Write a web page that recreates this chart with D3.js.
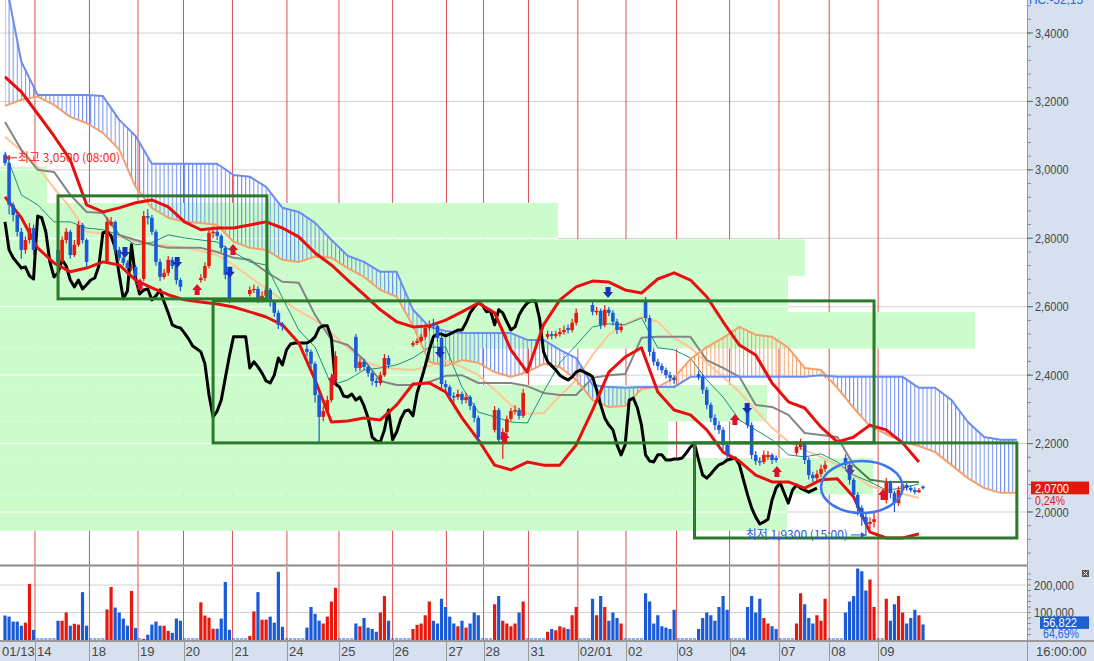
<!DOCTYPE html>
<html>
<head>
<meta charset="utf-8">
<script src="https://cdn.jsdelivr.net/npm/d3@7"></script>
<style>
  html, body { margin: 0; padding: 0; background: #fff; }
  svg { display: block; }
</style>
</head>
<body>
<div id="chart"></div>
<script>
/* global d3 */

/*******************************************************************
 * Data (prices, volume in thousands, one slot = one hourly bar)
 *******************************************************************/
const closes = [
  3.020,2.898,2.868,2.819,2.766,2.795,2.830,2.766,2.766,2.766,
  2.766,2.766,2.766,2.731,2.795,2.819,2.751,2.781,2.839,2.795,
  2.731,2.731,2.731,2.731,2.731,2.848,2.848,2.766,2.743,2.728,
  2.713,2.716,2.690,2.681,2.865,2.860,2.819,2.731,2.687,2.699,
  2.737,2.719,2.678,2.658,2.678,2.652,2.664,2.678,2.684,2.719,
  2.816,2.819,2.807,2.772,2.693,2.623,2.646,2.781,2.684,2.637,
  2.649,2.652,2.620,2.632,2.649,2.614,2.582,2.547,2.541,2.538,
  2.523,2.506,2.485,2.477,2.468,2.433,2.342,2.278,2.295,2.327,
  2.392,2.456,2.512,2.512,2.512,2.512,2.421,2.439,2.424,2.406,
  2.383,2.377,2.400,2.450,2.430,2.474,2.491,2.494,2.494,2.494,
  2.494,2.500,2.512,2.538,2.544,2.544,2.509,2.374,2.365,2.339,
  2.336,2.345,2.327,2.336,2.310,2.275,2.219,2.208,2.205,2.240,
  2.298,2.211,2.234,2.272,2.295,2.298,2.281,2.348,2.386,2.427,
  2.474,2.512,2.520,2.520,2.515,2.520,2.526,2.532,2.532,2.553,
  2.582,2.599,2.611,2.605,2.585,2.588,2.547,2.591,2.582,2.556,
  2.532,2.541,2.576,2.596,2.611,2.617,2.617,2.567,2.468,2.439,
  2.427,2.415,2.400,2.392,2.386,2.395,2.409,2.415,2.409,2.403,
  2.395,2.357,2.313,2.275,2.254,2.240,2.196,2.167,2.196,2.327,
  2.333,2.304,2.254,2.167,2.149,2.146,2.167,2.167,2.152,2.152,
  2.155,2.155,2.158,2.173,2.190,2.199,2.152,2.108,2.099,2.111,
  2.126,2.138,2.143,2.152,2.155,2.158,2.138,2.094,2.050,2.012,
  1.985,1.965,1.971,1.979,2.035,2.070,2.085,2.055,2.026,2.064,
  2.079,2.070,2.064,2.058,2.064,2.070
];

const opens = [
  3.044,3.020,2.898,2.868,2.819,2.766,2.795,2.830,
  null,null,null,null,null,
  2.766,2.731,2.795,2.819,2.751,2.781,2.839,2.795,
  null,null,null,null,
  2.731,2.840,2.848,2.766,2.743,2.728,2.713,2.716,
  null,
  2.681,2.865,2.860,2.819,2.731,2.687,2.699,2.737,2.719,2.678,
  null,null,null,null,
  2.678,2.684,2.719,2.816,2.819,2.807,2.772,2.693,
  null,null,null,null,
  2.637,2.649,2.652,2.620,2.632,2.649,2.614,2.582,2.547,
  null,null,null,null,null,
  2.477,2.468,2.433,2.342,2.278,2.295,2.327,2.392,
  null,null,null,null,
  2.512,2.421,2.439,2.424,2.406,2.383,2.377,2.400,2.450,
  null,null,null,null,null,
  2.488,2.494,2.500,2.512,2.538,2.550,2.544,2.509,
  2.374,2.365,2.339,2.336,2.345,2.327,2.336,2.310,2.275,
  null,null,null,
  2.240,2.298,2.211,2.234,2.272,2.295,2.298,2.281,
  null,null,null,null,null,
  2.512,2.520,2.515,2.520,2.526,2.538,2.532,2.553,
  null,null,null,
  2.605,2.585,2.588,2.547,2.591,2.582,2.556,2.532,
  null,null,null,null,null,
  2.617,2.567,2.468,2.439,2.427,2.415,2.400,2.392,
  null,null,null,null,null,
  2.403,2.395,2.357,2.313,2.275,2.254,2.240,2.196,
  null,null,null,null,
  2.304,2.254,2.167,2.149,2.146,2.160,2.167,2.158,
  null,null,null,null,
  2.173,2.190,2.199,2.152,2.108,2.099,2.111,2.126,
  null,null,null,null,
  2.158,2.138,2.094,2.050,2.012,1.985,1.965,1.971,
  null,null,
  2.035,2.085,2.055,2.026,2.064,2.079,2.070,2.064,2.058,2.074
];

const highs = [
  3.050,3.025,2.905,2.880,2.830,2.805,2.845,2.840,
  null,null,null,null,null,
  2.780,2.805,2.830,2.825,2.795,2.850,2.845,2.800,
  null,null,null,null,
  2.860,2.862,2.852,2.775,2.752,2.735,2.725,2.722,
  null,
  2.880,2.885,2.868,2.825,2.740,2.710,2.748,2.745,2.725,2.685,
  null,null,null,null,
  2.695,2.730,2.830,2.835,2.828,2.812,2.778,2.700,
  null,null,null,null,
  2.660,2.665,2.660,2.645,2.662,2.655,2.620,2.590,2.555,
  null,null,null,null,null,
  2.490,2.475,2.440,2.350,2.310,2.340,2.405,2.470,
  null,null,null,null,
  2.520,2.450,2.448,2.430,2.412,2.392,2.410,2.462,2.458,
  null,null,null,null,null,
  2.500,2.508,2.520,2.548,2.560,2.565,2.552,2.515,
  2.385,2.372,2.350,2.358,2.352,2.348,2.342,2.318,2.282,
  null,null,null,
  2.310,2.305,2.245,2.282,2.305,2.312,2.305,2.360,
  null,null,null,null,null,
  2.530,2.528,2.530,2.538,2.545,2.548,2.565,2.595,
  null,null,null,
  2.615,2.600,2.595,2.605,2.600,2.590,2.565,2.552,
  null,null,null,null,null,
  2.628,2.575,2.478,2.448,2.435,2.422,2.410,2.400,
  null,null,null,null,null,
  2.412,2.402,2.365,2.320,2.285,2.265,2.248,2.205,
  null,null,null,null,
  2.312,2.262,2.178,2.160,2.180,2.178,2.172,2.165,
  null,null,null,null,
  2.200,2.215,2.205,2.160,2.118,2.122,2.138,2.150,
  null,null,null,null,
  2.168,2.145,2.100,2.058,2.020,1.995,1.985,2.000,
  null,null,
  2.100,2.092,2.062,2.075,2.090,2.085,2.078,2.072,2.070,2.078
];

const lows = [
  3.012,2.870,2.850,2.805,2.740,2.755,2.785,2.750,
  null,null,null,null,null,
  2.715,2.725,2.785,2.740,2.745,2.775,2.785,2.715,
  null,null,null,null,
  2.725,2.835,2.755,2.735,2.720,2.700,2.705,2.680,
  null,
  2.675,2.840,2.810,2.720,2.675,2.680,2.690,2.710,2.665,2.645,
  null,null,null,null,
  2.670,2.675,2.712,2.800,2.795,2.760,2.680,2.610,
  null,null,null,null,
  2.630,2.640,2.610,2.612,2.625,2.600,2.570,2.535,2.530,
  null,null,null,null,null,
  2.455,2.420,2.320,2.205,2.265,2.285,2.320,2.385,
  null,null,null,null,
  2.410,2.412,2.415,2.395,2.370,2.365,2.370,2.395,2.420,
  null,null,null,null,null,
  2.482,2.488,2.495,2.505,2.530,2.535,2.498,2.360,
  2.350,2.325,2.320,2.328,2.315,2.318,2.298,2.262,2.205,
  null,null,null,
  2.232,2.200,2.155,2.225,2.265,2.285,2.270,2.275,
  null,null,null,null,null,
  2.505,2.505,2.508,2.512,2.518,2.522,2.525,2.545,
  null,null,null,
  2.575,2.575,2.535,2.540,2.572,2.545,2.520,2.525,
  null,null,null,null,null,
  2.555,2.455,2.428,2.415,2.405,2.390,2.382,2.375,
  null,null,null,null,null,
  2.385,2.345,2.300,2.262,2.240,2.228,2.182,2.155,
  null,null,null,null,
  2.245,2.155,2.138,2.135,2.140,2.152,2.140,2.145,
  null,null,null,null,
  2.165,2.182,2.140,2.095,2.088,2.090,2.102,2.118,
  null,null,null,null,
  2.125,2.080,2.035,1.990,1.960,1.930,1.950,1.955,
  null,null,
  2.025,2.040,2.000,2.018,2.058,2.062,2.058,2.052,2.055,2.066
];

const volumes = [
  89,85,67,67,52,63,204,37,
  0,0,0,0,0,
  70,70,100,52,59,56,174,52,
  0,0,0,0,
  111,193,118,100,78,52,178,44,
  0,
  4,19,56,67,52,52,33,26,78,70,
  0,0,0,0,
  137,89,81,41,41,78,211,37,
  0,0,0,0,
  15,104,174,74,74,85,63,248,48,
  0,0,0,0,0,
  45,120,95,70,60,85,140,190,
  0,0,0,0,
  60,50,80,45,40,30,100,160,70,
  0,0,0,0,0,
  40,55,60,90,140,70,60,150,
  120,85,60,50,70,45,60,100,90,
  0,0,0,
  130,160,70,60,50,60,100,140,
  0,0,0,0,0,
  30,40,35,50,45,40,90,120,
  0,0,0,
  150,90,160,120,70,100,80,60,
  0,0,0,0,0,
  170,140,60,90,50,45,40,110,
  0,0,0,0,0,
  40,80,100,90,70,120,160,110,
  0,0,0,0,
  120,160,100,150,80,60,50,40,
  0,0,0,0,
  60,170,130,80,60,90,70,150,
  0,0,0,0,
  100,140,160,260,250,180,220,120,
  0,0,
  150,70,130,160,100,60,80,110,90,56.822
];

// Ichimoku leading spans, sampled every 4 slots (extend 26 slots past last bar)
const spanA = [
  3.187,3.205,3.214,3.190,3.155,3.137,3.108,3.059,2.950,2.889,
  2.860,2.848,2.845,2.839,2.790,2.772,2.766,2.737,2.731,2.746,
  2.743,2.713,2.687,2.649,2.629,2.544,2.439,2.427,2.444,2.436,
  2.409,2.395,2.409,2.433,2.424,2.386,2.327,2.307,2.310,2.360,
  2.365,2.392,2.447,2.482,2.509,2.541,2.518,2.512,2.480,2.421,
  2.415,2.363,2.304,2.251,2.228,2.205,2.193,2.175,2.137,2.099,
  2.070,2.056,2.056
];
const spanB = [
  3.561,3.316,3.219,3.219,3.219,3.219,3.216,3.146,3.099,3.018,
  3.018,3.018,3.018,3.018,2.985,2.980,2.950,2.889,2.877,2.845,
  2.795,2.749,2.731,2.702,2.702,2.591,2.541,2.529,2.523,2.523,
  2.523,2.523,2.503,2.503,2.474,2.450,2.371,2.365,2.363,2.365,
  2.365,2.365,2.395,2.395,2.395,2.395,2.395,2.395,2.395,2.395,
  2.400,2.395,2.395,2.395,2.395,2.395,2.363,2.363,2.327,2.263,
  2.219,2.211,2.211
];

// Other overlay lines, sampled every 4 slots up to the last bar
const baseLine = [
  3.140,3.059,3.000,2.994,2.927,2.877,2.874,2.810,2.795,2.781,
  2.772,2.772,2.772,2.760,2.743,2.737,2.702,2.673,2.670,2.576,
  2.503,2.488,2.444,2.383,2.371,2.371,2.380,2.398,2.400,2.377,
  2.377,2.377,2.368,2.348,2.342,2.342,2.392,2.400,2.403,2.509,
  2.512,2.512,2.512,2.444,2.421,2.395,2.313,2.307,2.284,2.231,
  2.225,2.219,2.137,2.094,2.088,2.088,2.088
];
const convLine = [
  3.053,2.927,2.898,2.848,2.848,2.830,2.825,2.810,2.781,2.787,
  2.810,2.801,2.795,2.789,2.760,2.731,2.722,2.626,2.532,2.482,
  2.371,2.386,2.415,2.421,2.430,2.450,2.482,2.482,2.365,2.292,
  2.278,2.263,2.260,2.351,2.436,2.488,2.541,2.550,2.547,2.567,
  2.480,2.474,2.450,2.386,2.336,2.269,2.240,2.211,2.167,2.161,
  2.170,2.146,2.108,2.088,2.064,2.070,2.082
];
const maLine = [
  3.097,3.056,3.009,2.947,2.889,2.819,2.813,2.804,2.792,2.784,
  2.778,2.772,2.763,2.751,2.722,2.687,2.652,2.620,2.588,2.561,
  2.523,2.480,2.439,2.424,2.418,2.415,2.427,2.442,2.424,2.400,
  2.357,2.313,2.287,2.289,2.339,2.386,2.459,2.518,2.550,2.570,
  2.556,2.509,2.480,2.436,2.395,2.351,2.298,2.246,2.205,2.181,
  2.161,2.137,2.108,2.076,2.061,2.053,2.041
];
const bandUpper = [
  3.272,3.228,3.164,3.099,3.029,2.898,2.877,2.889,2.904,2.912,
  2.892,2.848,2.825,2.830,2.830,2.839,2.848,2.830,2.804,2.757,
  2.722,2.678,2.635,2.591,2.556,2.541,2.544,2.561,2.585,2.611,
  2.582,2.474,2.409,2.547,2.620,2.658,2.675,2.672,2.649,2.640,
  2.681,2.699,2.678,2.629,2.556,2.488,2.459,2.377,2.322,2.304,
  2.248,2.205,2.219,2.254,2.240,2.202,2.146
];
const bandLower = [
  2.921,2.860,2.772,2.728,2.702,2.713,2.731,2.722,2.678,2.655,
  2.635,2.620,2.614,2.608,2.599,2.585,2.570,2.547,2.494,2.386,
  2.263,2.266,2.275,2.269,2.313,2.374,2.377,2.351,2.275,2.211,
  2.137,2.123,2.146,2.137,2.137,2.196,2.298,2.409,2.453,2.480,
  2.351,2.298,2.284,2.240,2.175,2.149,2.108,2.088,2.088,2.070,
  2.094,2.097,2.044,1.941,1.924,1.924,1.936
];

// Price-by-volume bins (lower edge, relative volume)
const pbvLow    = [1.945, 2.0515, 2.158, 2.2645, 2.371, 2.4775, 2.584, 2.6905, 2.797, 2.9035];
const pbvVolume = [78.7, 87.3, 66.8, 76.7, 48.0, 97.5, 78.8, 80.5, 55.8, 4.7];
const pbvStep   = 0.1065;

// Day separators (slot position) and date labels
const dayBreaks = [-1.2, 7.35, 20.7, 32.6, 43.75, 55.75, 69.1, 81.85, 95, 108.2, 117.3, 128.3, 140.4, 152.2, 164.6, 177.6, 189.7, 202, 214];
const dayLabels = ["01/13","14","18","19","20","21","24","25","26","27","28","31","02/01","02","03","04","07","08","09"];

// Box ranges (slot from/to, price high/low)
const boxStart = [13, 51, 169];
const boxEnd   = [64.2, 213, 248];
const boxHigh  = [2.924, 2.617, 2.202];
const boxLow   = [2.623, 2.202, 1.924];

// Signal arrows
const upSigSlot  = [33.1, 47.1, 55.9, 80.4, 122.5, 178.9, 189.2, 215.2];
const upSigPrice = [2.664, 2.649, 2.766, 2.386, 2.216, 2.269, 2.117, 2.050];
const dnSigSlot  = [29.4, 42.2, 55.1, 106.6, 147.8, 181.9, 207.1];
const dnSigPrice = [2.760, 2.731, 2.702, 2.468, 2.643, 2.304, 2.123];

const priceTicks = [2.0, 2.2, 2.4, 2.6, 2.8, 3.0, 3.2, 3.4];
const volTicks   = [100, 200];

/*******************************************************************
 * Layout & scales
 *******************************************************************/
const W = 1094, H = 661;
const plotR = 1027, mainB = 565, volT = 567, volB = 640;
const lagShift = 26, sampleStep = 4;

const x  = d3.scaleLinear().domain([0, 250]).range([5, 1025]);
const y  = d3.scaleLinear().domain([2.0, 3.4]).range([512, 33]);
const yv = d3.scaleLinear().domain([0, 200]).range([640, 585]);
const pbvX = d3.scaleLinear().domain([0, 100]).range([0, 1000]);

const RED = "#e8180c", BLUE = "#1a5ad6";
const fmtPrice = p => d3.format(".4f")(p).replace(".", ",");
const fmtVol   = v => d3.format(",")(v * 1000);

const svg = d3.select("#chart").append("svg")
  .attr("width", W).attr("height", H)
  .style("font-family", "'Liberation Sans', Arial, sans-serif");
svg.append("rect").attr("width", W).attr("height", H).attr("fill", "#fff");

const defs = svg.append("defs");
defs.append("clipPath").attr("id", "clipMain").append("rect")
  .attr("x", 0).attr("y", 0).attr("width", plotR).attr("height", mainB);
defs.append("clipPath").attr("id", "clipVol").append("rect")
  .attr("x", 0).attr("y", volT).attr("width", plotR).attr("height", volB - volT);

function hatch(id, color) {
  const w = x(1) - x(0);
  const p = defs.append("pattern").attr("id", id).attr("patternUnits", "userSpaceOnUse")
    .attr("x", x(0) - 0.5).attr("y", 0).attr("width", w).attr("height", 10);
  p.append("rect").attr("width", 1).attr("height", 10).attr("fill", color);
}
hatch("hatchBlue", "#6d8cf0");
hatch("hatchOrange", "#f3a26e");

/*******************************************************************
 * Price pane
 *******************************************************************/
const main = svg.append("g").attr("clip-path", "url(#clipMain)");

main.selectAll("line.grid").data(priceTicks).enter().append("line")
  .attr("x1", 0).attr("x2", plotR).attr("y1", d => y(d)).attr("y2", d => y(d))
  .attr("stroke", "#d2d2d2");

main.selectAll("line.day").data(dayBreaks.slice(1)).enter().append("line")
  .attr("x1", d => x(d)).attr("x2", d => x(d)).attr("y1", 0).attr("y2", mainB)
  .attr("stroke", "#e05050");

main.selectAll("rect.pbv").data(pbvLow).enter().append("rect")
  .attr("x", 0).attr("y", d => y(d + pbvStep))
  .attr("width", (d, i) => pbvX(pbvVolume[i]))
  .attr("height", d => y(d) - y(d + pbvStep))
  .attr("fill", "#ccfccc");

// gridlines show white where they cross the green bins
priceTicks.forEach(p => {
  const i = pbvLow.findIndex(lo => p >= lo && p < lo + pbvStep);
  if (i < 0) return;
  main.append("line").attr("x1", 0).attr("x2", pbvX(pbvVolume[i]))
    .attr("y1", y(p)).attr("y2", y(p)).attr("stroke", "#fff");
});

// cloud hatch
const idxCloud = d3.range(spanA.length);
main.append("path").datum(idxCloud)
  .attr("d", d3.area().x(k => x(k * sampleStep))
    .y1(k => y(spanB[k])).y0(k => Math.max(y(spanA[k]), y(spanB[k]))))
  .attr("fill", "url(#hatchBlue)");
main.append("path").datum(idxCloud)
  .attr("d", d3.area().x(k => x(k * sampleStep))
    .y1(k => y(spanA[k])).y0(k => Math.max(y(spanA[k]), y(spanB[k]))))
  .attr("fill", "url(#hatchOrange)");

const sampled = d3.line().x((d, k) => x(k * sampleStep)).y(d => y(d));
function drawLine(data, color, width) {
  main.append("path").datum(data).attr("d", sampled)
    .attr("fill", "none").attr("stroke", color).attr("stroke-width", width)
    .attr("stroke-linejoin", "round");
}
drawLine(maLine, "#ffc596", 2);
drawLine(baseLine.slice(0, 53), "#858585", 2);
main.append("path").datum(baseLine.slice(52))
  .attr("d", d3.line().x((d, k) => x((k + 52) * sampleStep)).y(d => y(d)))
  .attr("fill", "none").attr("stroke", "#557a45").attr("stroke-width", 2);
drawLine(convLine, "#13927a", 1);
drawLine(spanA, "#f4a06c", 2);
drawLine(spanB, "#6b8cf2", 2);

// lagging span: closes shifted back
const lagIdx = d3.range(lagShift, closes.length);
main.append("path").datum(lagIdx)
  .attr("d", d3.line().x(j => x(j - lagShift)).y(j => y(closes[j])))
  .attr("fill", "none").attr("stroke", "#000").attr("stroke-width", 3)
  .attr("stroke-linejoin", "round");

drawLine(bandUpper, "#e80f0f", 3);
drawLine(bandLower, "#e80f0f", 3);

// candles
const bars = d3.range(closes.length).filter(j => opens[j] != null);
const isUp = j => closes[j] >= opens[j];
const candle = main.selectAll("g.candle").data(bars).enter().append("g");
candle.append("line")
  .attr("x1", j => x(j)).attr("x2", j => x(j))
  .attr("y1", j => y(highs[j])).attr("y2", j => y(lows[j]))
  .attr("stroke", j => isUp(j) ? RED : BLUE).attr("stroke-width", 1.2);
candle.append("rect")
  .attr("x", j => x(j) - 1.8).attr("width", 3.6)
  .attr("y", j => y(Math.max(opens[j], closes[j])))
  .attr("height", j => Math.max(1.5, Math.abs(y(opens[j]) - y(closes[j]))))
  .attr("fill", j => isUp(j) ? RED : BLUE);

// boxes
main.selectAll("rect.box").data(boxStart).enter().append("rect")
  .attr("x", (d, i) => x(d)).attr("y", (d, i) => y(boxHigh[i]))
  .attr("width", (d, i) => x(boxEnd[i]) - x(d))
  .attr("height", (d, i) => y(boxLow[i]) - y(boxHigh[i]))
  .attr("fill", "none").attr("stroke", "#2b7a2b").attr("stroke-width", 3);

// signal arrows
const upShape = [[0,-6],[5,0],[2.5,0],[2.5,5],[-2.5,5],[-2.5,0],[-5,0]];
function arrow(cx, cy, dir, color) {
  const pts = upShape.map(([a, b]) => [cx + a, cy + b * dir]);
  main.append("path").attr("d", "M" + pts.join("L") + "Z").attr("fill", color);
}
upSigSlot.forEach((s, i) => arrow(x(s), y(upSigPrice[i]), 1, "#e0102a"));
dnSigSlot.forEach((s, i) => arrow(x(s), y(dnSigPrice[i]), -1, i === 6 ? "#4a3fb0" : "#1633b8"));

// highlight ellipse
main.append("ellipse")
  .attr("cx", x(210)).attr("cy", y(2.073))
  .attr("rx", x(220) - x(210)).attr("ry", y(2.0) - y(2.076))
  .attr("fill", "none").attr("stroke", "#3b76ee").attr("stroke-width", 2.5);

// high / low annotations
const hiX = x(0), hiY = y(3.05);
main.append("line").attr("x1", hiX + 12).attr("x2", hiX + 2).attr("y1", hiY + 5).attr("y2", hiY + 5)
  .attr("stroke", "#ff1a1a");
main.append("path").attr("d", `M${hiX},${hiY + 5}L${hiX + 5},${hiY + 2}L${hiX + 5},${hiY + 8}Z`).attr("fill", "#ff1a1a");
main.append("text").attr("x", hiX + 13).attr("y", hiY + 9.5)
  .attr("font-family", "'Noto Sans CJK KR', sans-serif").attr("font-size", 12)
  .attr("fill", "#ff1a1a").text("최고 3,0500 (08:00)");

const loX = x(211), loY = y(1.93);
main.append("line").attr("x1", loX - 15).attr("x2", loX - 3).attr("y1", loY - 1).attr("y2", loY - 1)
  .attr("stroke", "#2a56e6");
main.append("path").attr("d", `M${loX},${loY - 1}L${loX - 5},${loY - 4}L${loX - 5},${loY + 2}Z`).attr("fill", "#2a56e6");
main.append("text").attr("x", loX - 18).attr("y", loY + 3).attr("text-anchor", "end")
  .attr("font-family", "'Noto Sans CJK KR', sans-serif").attr("font-size", 12)
  .attr("fill", "#2a56e6").text("최저 1,9300 (15:00)");

/*******************************************************************
 * Volume pane
 *******************************************************************/
const vol = svg.append("g").attr("clip-path", "url(#clipVol)");
vol.selectAll("line.vgrid").data(volTicks).enter().append("line")
  .attr("x1", 0).attr("x2", plotR).attr("y1", d => yv(d)).attr("y2", d => yv(d))
  .attr("stroke", "#d2d2d2");
vol.selectAll("line.vday").data(dayBreaks.slice(1)).enter().append("line")
  .attr("x1", d => x(d)).attr("x2", d => x(d)).attr("y1", volT).attr("y2", volB)
  .attr("stroke", "#e05050");
vol.selectAll("rect.vbar").data(d3.range(volumes.length)).enter().append("rect")
  .attr("x", j => x(j) - 1.6).attr("width", 3.2)
  .attr("y", j => volumes[j] > 0 ? yv(volumes[j]) : volB - 1.5)
  .attr("height", j => volumes[j] > 0 ? yv(0) - yv(volumes[j]) : 1)
  .attr("fill", j => opens[j] == null ? BLUE : (isUp(j) ? RED : BLUE));

// pane separator
svg.append("line").attr("x1", 0).attr("x2", W).attr("y1", 565.5).attr("y2", 565.5)
  .attr("stroke", "#8c8c8c").attr("stroke-width", 2);

/*******************************************************************
 * Right axis
 *******************************************************************/
const axisBg = "#d6e0ee", axisInk = "#474747";
svg.append("rect").attr("x", plotR).attr("y", 0).attr("width", W - plotR).attr("height", 641).attr("fill", axisBg);
svg.append("line").attr("x1", plotR + 0.5).attr("x2", plotR + 0.5).attr("y1", 0).attr("y2", H)
  .attr("stroke", "#9a9a9a");

const ax = svg.append("g");
ax.selectAll("line.minor").data(d3.range(47, 88).map(k => k * 0.04)).enter().append("line")
  .attr("x1", plotR).attr("x2", plotR + 4).attr("y1", d => y(d)).attr("y2", d => y(d))
  .attr("stroke", "#8a8a8a");
ax.selectAll("line.major").data(priceTicks).enter().append("line")
  .attr("x1", plotR).attr("x2", plotR + 6).attr("y1", d => y(d)).attr("y2", d => y(d))
  .attr("stroke", "#666");
ax.selectAll("text.pt").data(priceTicks).enter().append("text")
  .attr("x", plotR + 8).attr("y", d => y(d) + 4.5)
  .attr("font-size", 13).attr("fill", axisInk)
  .attr("textLength", d => fmtPrice(d).length * 5.6).attr("lengthAdjust", "spacingAndGlyphs")
  .text(d => fmtPrice(d));

ax.selectAll("line.vminor").data(d3.range(1, 13).map(k => k * 20)).enter().append("line")
  .attr("x1", plotR).attr("x2", plotR + 4).attr("y1", d => yv(d)).attr("y2", d => yv(d))
  .attr("stroke", "#8a8a8a");
ax.selectAll("text.vt").data(volTicks).enter().append("text")
  .attr("x", plotR + 7).attr("y", d => yv(d) + 4.5)
  .attr("font-size", 13).attr("fill", axisInk)
  .attr("textLength", d => fmtVol(d).length * 5.7).attr("lengthAdjust", "spacingAndGlyphs")
  .text(d => fmtVol(d));

// top value (clipped by the frame)
ax.append("text").attr("x", plotR + 2).attr("y", 4).attr("font-size", 13).attr("fill", "#2266dd")
  .attr("textLength", 54).attr("lengthAdjust", "spacingAndGlyphs").text("HC:-52,15");

// last price tag with change below
const lastY = y(closes[closes.length - 1]);
ax.append("rect").attr("x", plotR + 4).attr("y", lastY - 6.5).attr("width", 58).attr("height", 13).attr("fill", "#e5160c");
ax.append("text").attr("x", plotR + 8).attr("y", lastY + 4.5).attr("font-size", 13).attr("fill", "#fff")
  .attr("textLength", 34).attr("lengthAdjust", "spacingAndGlyphs").text(fmtPrice(closes[closes.length - 1]));
ax.append("rect").attr("x", plotR + 4).attr("y", lastY + 6.5).attr("width", 58).attr("height", 13).attr("fill", axisBg);
ax.append("text").attr("x", plotR + 8).attr("y", lastY + 17).attr("font-size", 13).attr("fill", "#e5160c")
  .attr("textLength", 30).attr("lengthAdjust", "spacingAndGlyphs").text("0,24%");

// last volume tag with ratio below
const lastV = volumes[volumes.length - 1];
const lastVY = yv(lastV) - 2;
ax.append("rect").attr("x", plotR + 13).attr("y", lastVY - 6).attr("width", 49).attr("height", 12.5).attr("fill", "#1c5fd2");
ax.append("text").attr("x", plotR + 16).attr("y", lastVY + 4.5).attr("font-size", 13).attr("fill", "#fff")
  .attr("textLength", 34).attr("lengthAdjust", "spacingAndGlyphs").text(d3.format(",")(Math.round(lastV * 1000)));
ax.append("text").attr("x", plotR + 16).attr("y", lastVY + 16).attr("font-size", 13).attr("fill", "#2266dd")
  .attr("textLength", 36).attr("lengthAdjust", "spacingAndGlyphs").text("64,69%");

// close button of volume pane
ax.append("rect").attr("x", 1082).attr("y", 570).attr("width", 7).attr("height", 7).attr("fill", "#555");
ax.append("path").attr("d", "M1083.5,571.5L1087.5,575.5M1087.5,571.5L1083.5,575.5").attr("stroke", "#fff");

/*******************************************************************
 * Bottom date axis
 *******************************************************************/
svg.append("rect").attr("x", 0).attr("y", 641).attr("width", W).attr("height", 20).attr("fill", axisBg);
svg.append("line").attr("x1", 0).attr("x2", W).attr("y1", 641).attr("y2", 641).attr("stroke", "#9a9a9a").attr("stroke-width", 2);
const dx = svg.append("g");
dx.selectAll("line.dt").data(dayBreaks.slice(1)).enter().append("line")
  .attr("x1", d => Math.round(x(d)) + 0.5).attr("x2", d => Math.round(x(d)) + 0.5)
  .attr("y1", 641).attr("y2", H).attr("stroke", "#9a9a9a");
dx.append("line").attr("x1", plotR + 0.5).attr("x2", plotR + 0.5).attr("y1", 641).attr("y2", H).attr("stroke", "#9a9a9a");
dx.selectAll("text.dl").data(dayLabels).enter().append("text")
  .attr("x", (d, i) => Math.max(1, x(dayBreaks[i]) + 2)).attr("y", 656)
  .attr("font-size", 13).attr("fill", axisInk).text(d => d);
dx.append("text").attr("x", plotR + 9).attr("y", 656).attr("font-size", 13).attr("fill", axisInk).text("16:00:00");
</script>
</body>
</html>
